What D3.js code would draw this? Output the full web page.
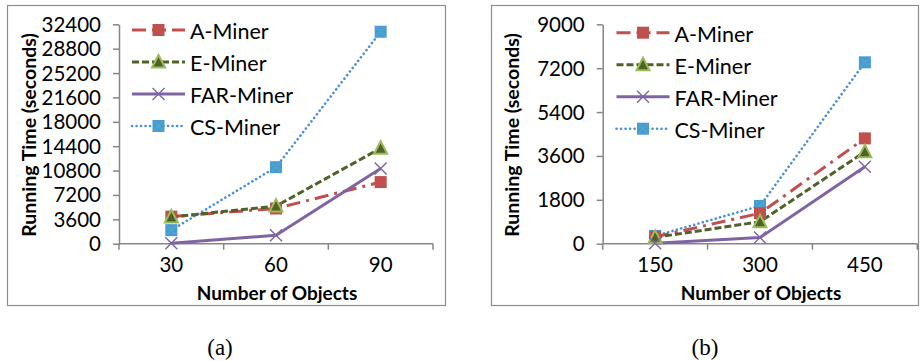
<!DOCTYPE html>
<html>
<head>
<meta charset="utf-8">
<script src="https://cdn.jsdelivr.net/npm/d3@7"></script>
<style>
  body { margin: 0; background: #fff; }
  svg text { font-family: Lato, "Open Sans", sans-serif; fill: #000; }
</style>
</head>
<body>
<svg id="fig" width="920" height="361"></svg>
<script>
// panel (a)
const objectsA = ["30", "60", "90"];
const ticksA = [0, 3600, 7200, 10800, 14400, 18000, 21600, 25200, 28800, 32400];
const aMinerA = [4000, 5200, 9100];
const eMinerA = [3950, 5550, 14100];
const farMinerA = [50, 1250, 11100];
const csMinerA = [2000, 11300, 31300];

// panel (b)
const objectsB = ["150", "300", "450"];
const ticksB = [0, 1800, 3600, 5400, 7200, 9000];
const aMinerB = [280, 1250, 4320];
const eMinerB = [260, 900, 3770];
const farMinerB = [20, 250, 3160];
const csMinerB = [320, 1550, 7440];

const seriesNames = ["A-Miner", "E-Miner", "FAR-Miner", "CS-Miner"];

const styles = {
  "A-Miner":   { stroke: "#c0504d", width: 3, dash: "14,6,3,6", legendDash: "14,6", cap: "butt", marker: "square", fill: "#c0504d", mstroke: "#c0504d" },
  "E-Miner":   { stroke: "#4f6228", width: 3, dash: "7,3", legendDash: "7,3", cap: "butt", marker: "triangle", fill: "#4f6228", mstroke: "#9bbb59" },
  "FAR-Miner": { stroke: "#8064a2", width: 3, dash: null, legendDash: null, cap: "butt", marker: "x", fill: "none", mstroke: "#8064a2" },
  "CS-Miner":  { stroke: "#4a8fd8", width: 2.6, dash: "0.1,4.4", legendDash: "0.1,4.4", cap: "round", marker: "square", fill: "#4a9ad4", mstroke: "#4bacc6" }
};

const svg = d3.select("#fig");

const draw_marker = function (g, name, x, y) {
  let s = styles[name];
  if (s.marker === "square") {
    g.append("rect").attr("x", x - 6).attr("y", y - 6).attr("width", 12).attr("height", 12)
      .attr("fill", s.fill);
    if (name === "CS-Miner") {
      g.append("path").attr("d", `M${x - 4.5},${y - 4.5}L${x + 4.5},${y + 4.5}M${x - 4.5},${y + 4.5}L${x + 4.5},${y - 4.5}`)
        .attr("stroke", s.mstroke).attr("stroke-width", 1.2);
    }
  } else if (s.marker === "triangle") {
    g.append("path").attr("d", `M${x},${y - 7}L${x + 6.5},${y + 5.5}L${x - 6.5},${y + 5.5}Z`)
      .attr("fill", s.fill).attr("stroke", s.mstroke).attr("stroke-width", 2);
  } else {
    g.append("path").attr("d", `M${x - 6},${y - 6}L${x + 6},${y + 6}M${x - 6},${y + 6}L${x + 6},${y - 6}`)
      .attr("stroke", s.mstroke).attr("stroke-width", 1.4).attr("fill", "none");
  }
}

const draw_panel = function (cfg) {
  let g = svg.append("g");

  // outer frame
  g.append("rect")
    .attr("x", cfg.frame[0] + 0.5).attr("y", 5.5)
    .attr("width", cfg.frame[1] - cfg.frame[0]).attr("height", 300)
    .attr("fill", "none").attr("stroke", "#8c8c8c").attr("stroke-width", 1.2);

  let x = d3.scaleBand().domain(cfg.cats).range([cfg.x0, cfg.x1]);
  let y = d3.scaleLinear().domain([0, cfg.ticks[cfg.ticks.length - 1]]).range([243.7, 24.3]);

  // y axis
  let ya = g.append("g").attr("transform", `translate(${cfg.x0},0)`)
    .call(d3.axisLeft(y).tickValues(cfg.ticks).tickSize(6).tickSizeOuter(0).tickPadding(12).tickFormat(d3.format("d")));
  ya.select(".domain").attr("stroke", "#868686").attr("stroke-width", 1.5);
  ya.selectAll(".tick line").attr("stroke", "#868686").attr("stroke-width", 1.5);
  ya.selectAll(".tick text").attr("font-size", 20.5).attr("font-family", "Lato, sans-serif").attr("dy", "0.34em");

  // x axis, ticks between categories
  let xa = g.append("g").attr("transform", `translate(0,${y(0)})`)
    .call(d3.axisBottom(x).tickSize(0).tickPadding(14));
  xa.select(".domain").attr("stroke", "#868686").attr("stroke-width", 1.5).attr("d", `M${cfg.x0},0H${cfg.x1}`);
  xa.selectAll(".tick text").attr("font-size", 20.5).attr("font-family", "Lato, sans-serif");
  let bounds = cfg.cats.map(c => x(c)).concat([cfg.x1]);
  g.selectAll(".xtick").data(bounds).join("line")
    .attr("x1", d => d).attr("x2", d => d)
    .attr("y1", y(0)).attr("y2", y(0) + 6)
    .attr("stroke", "#868686").attr("stroke-width", 1.5);

  // axis titles
  g.append("text")
    .attr("transform", `translate(${cfg.ytitleX},${(y(0) + y.range()[1]) / 2 + 1}) rotate(-90)`)
    .attr("text-anchor", "middle").attr("dominant-baseline", "central")
    .attr("font-size", 19.5).attr("font-weight", "bold")
    .text("Running Time (seconds)");
  g.append("text")
    .attr("x", (cfg.x0 + cfg.x1) / 2 + 1).attr("y", 292)
    .attr("text-anchor", "middle").attr("dominant-baseline", "central")
    .attr("font-size", 19).attr("font-weight", "bold")
    .text("Number of Objects");

  // series
  let line = d3.line().x((d, i) => x(cfg.cats[i]) + x.bandwidth() / 2).y(d => y(d));
  let order = ["CS-Miner", "A-Miner", "E-Miner", "FAR-Miner"];
  order.forEach(name => {
    let s = styles[name];
    g.append("path").datum(cfg.series[name])
      .attr("d", line).attr("fill", "none")
      .attr("stroke", s.stroke).attr("stroke-width", s.width)
      .attr("stroke-dasharray", s.dash).attr("stroke-linecap", s.cap)
      .attr("stroke-linejoin", "round");
  });
  let mg = g.append("g");
  order.forEach(name => {
    cfg.series[name].forEach((v, i) => draw_marker(mg, name, x(cfg.cats[i]) + x.bandwidth() / 2, y(v)));
  });

  // legend
  let lg = g.append("g");
  seriesNames.forEach((name, i) => {
    let s = styles[name];
    let ly = cfg.legY + i * 32;
    lg.append("line")
      .attr("x1", cfg.legX).attr("x2", cfg.legX + 53).attr("y1", ly).attr("y2", ly)
      .attr("stroke", s.stroke).attr("stroke-width", s.width)
      .attr("stroke-dasharray", s.legendDash).attr("stroke-linecap", s.cap);
    draw_marker(lg, name, cfg.legX + 26.5, ly);
    lg.append("text").attr("x", cfg.legX + 58).attr("y", ly + 1)
      .attr("dominant-baseline", "central").attr("font-size", 21.5)
      .text(name);
  });

  // caption
  svg.append("text")
    .attr("x", cfg.capX).attr("y", 347)
    .attr("text-anchor", "middle").attr("dominant-baseline", "central")
    .attr("font-size", 23)
    .style("font-family", "'Liberation Serif', serif")
    .text(cfg.caption);
}

draw_panel({
  frame: [7, 445], x0: 119, x1: 433, ytitleX: 28, legX: 132, legY: 30, capX: 220, caption: "(a)",
  cats: objectsA, ticks: ticksA,
  series: { "A-Miner": aMinerA, "E-Miner": eMinerA, "FAR-Miner": farMinerA, "CS-Miner": csMinerA }
});

draw_panel({
  frame: [491, 918], x0: 602.7, x1: 917.3, ytitleX: 511.5, legX: 616.5, legY: 32.7, capX: 705, caption: "(b)",
  cats: objectsB, ticks: ticksB,
  series: { "A-Miner": aMinerB, "E-Miner": eMinerB, "FAR-Miner": farMinerB, "CS-Miner": csMinerB }
});
</script>
</body>
</html>
